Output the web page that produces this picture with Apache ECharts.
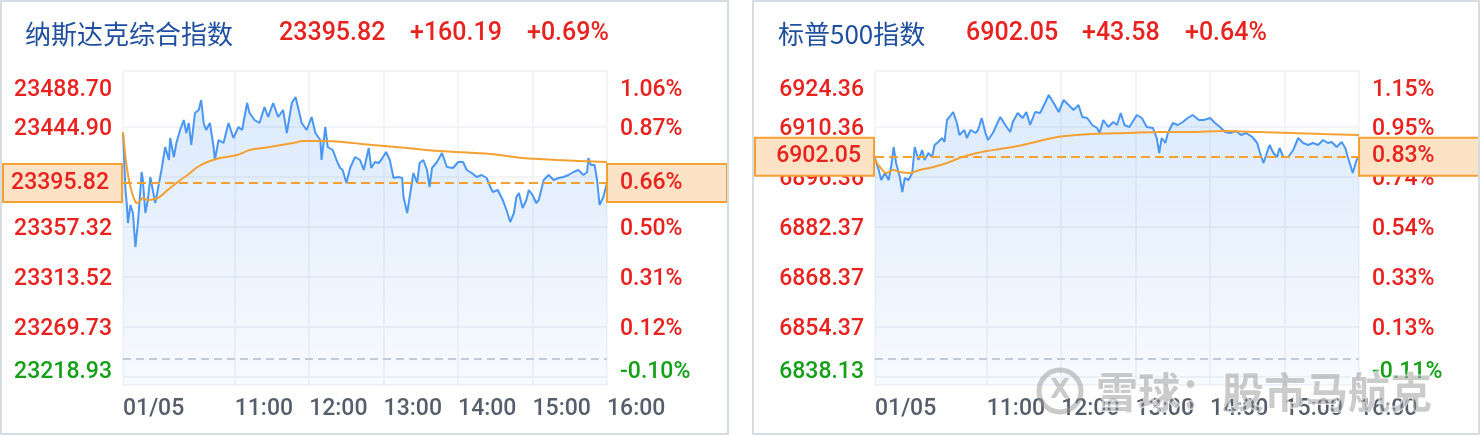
<!DOCTYPE html>
<html>
<head>
<meta charset="utf-8">
<title>纳斯达克 / 标普500 分时</title>
<script src="https://cdn.jsdelivr.net/npm/echarts@6/dist/echarts.min.js"></script>
<style>
  html, body { margin: 0; padding: 0; background: #fff; }
  #chart { width: 1482px; height: 436px; }
</style>
</head>
<body>
<div id="chart"></div>
<script>
// minutes counted from the 09:30 open
const timeTicks = [0, 90, 150, 210, 270, 330, 390]
const timeLabels = ['01/05', '11:00', '12:00', '13:00', '14:00', '15:00', '16:00']
const timeGrid = [90, 150, 210, 270, 330]

// 纳斯达克
const nasName = '纳斯达克综合指数'
const nasQuote = ['23395.82', '+160.19', '+0.69%']
const nasLast = 23395.82
const nasLastPct = '0.66%'
const nasBase = 23242.0
const nasMin = 23218.93
const nasMax = 23493.93
const nasTicks = [23218.93, 23269.73, 23313.52, 23357.32, 23401.11, 23444.90, 23488.70]
const nasPctLabels = ['-0.10%', '0.12%', '0.31%', '0.50%', '0.68%', '0.87%', '1.06%']
const nasGrid = [23225.94, 23269.73, 23313.52, 23357.32, 23401.11, 23444.90]
const nasPrice = [
  [0, 23439.63], [2, 23389.71], [3, 23378.33], [4, 23360.81], [6, 23376.57], [8, 23369.57],
  [10, 23339.79], [12, 23360.81], [14, 23389.71], [15, 23405.48], [16, 23398.47], [18, 23369.57],
  [20, 23380.95], [22, 23401.10], [24, 23389.71], [26, 23378.33], [28, 23389.71], [31, 23407.23],
  [34, 23427.37], [37, 23415.99], [38, 23435.25], [41, 23418.61], [43, 23430.87], [46, 23442.26],
  [49, 23451.02], [51, 23439.63], [53, 23448.39], [55, 23429.12], [58, 23457.15], [61, 23459.78],
  [63, 23468.53], [65, 23448.39], [67, 23442.26], [70, 23448.39], [73, 23427.37], [74, 23415.99],
  [77, 23433.50], [81, 23430.87], [85, 23448.39], [89, 23435.25], [93, 23444.89], [96, 23442.26],
  [100, 23465.91], [102, 23457.15], [106, 23451.02], [110, 23448.39], [114, 23462.40], [117, 23453.64],
  [121, 23465.91], [125, 23453.64], [129, 23459.78], [132, 23439.63], [136, 23465.91], [139, 23471.16],
  [141, 23462.40], [144, 23448.39], [148, 23442.26], [152, 23453.64], [155, 23439.63], [159, 23433.50],
  [160, 23415.99], [163, 23444.89], [165, 23427.37], [169, 23424.74], [173, 23413.36], [175, 23408.98],
  [177, 23407.23], [180, 23395.84], [183, 23408.98], [187, 23418.61], [191, 23415.99], [194, 23407.23],
  [198, 23426.49], [200, 23408.98], [203, 23414.23], [206, 23413.36], [208, 23415.99], [212, 23422.99],
  [215, 23415.99], [218, 23400.22], [222, 23401.10], [225, 23400.22], [226, 23383.58], [229, 23369.57],
  [231, 23383.58], [234, 23404.60], [237, 23395.84], [239, 23413.36], [242, 23415.99], [245, 23407.23],
  [247, 23392.34], [249, 23408.98], [253, 23414.23], [257, 23422.12], [261, 23409.85], [266, 23408.98],
  [270, 23414.23], [274, 23414.23], [277, 23407.23], [281, 23404.60], [285, 23401.10], [289, 23402.85],
  [293, 23400.22], [296, 23392.34], [298, 23387.96], [302, 23389.71], [306, 23380.95], [309, 23372.20],
  [312, 23361.69], [315, 23369.57], [317, 23383.58], [319, 23387.08], [322, 23373.95], [325, 23380.95],
  [327, 23389.71], [330, 23385.33], [333, 23378.33], [335, 23380.95], [339, 23398.47], [343, 23402.85],
  [347, 23398.47], [351, 23400.22], [355, 23401.10], [359, 23402.85], [363, 23405.48], [367, 23407.23],
  [371, 23402.85], [374, 23405.48], [375, 23417.74], [377, 23411.61], [380, 23411.61], [382, 23398.47],
  [384, 23376.57], [387, 23383.58], [390, 23395.82]
]
const nasAvg = [
  [0, 23440.51], [3, 23409.85], [6, 23392.34], [10, 23379.20], [12, 23378.33], [16, 23382.70],
  [20, 23380.95], [28, 23382.70], [36, 23389.71], [44, 23396.72], [52, 23402.85], [60, 23409.85],
  [68, 23414.23], [78, 23417.74], [92, 23420.36], [102, 23424.74], [118, 23427.37], [137, 23430.87],
  [145, 23432.63], [161, 23432.63], [177, 23431.75], [201, 23429.12], [229, 23426.49], [255, 23423.87],
  [296, 23421.24], [322, 23417.74], [350, 23415.99], [390, 23414.23]
]

// 标普500
const spxName = '标普500指数'
const spxQuote = ['6902.05', '+43.58', '+0.64%']
const spxLast = 6902.05
const spxLastPct = '0.83%'
const spxBase = 6845.4
const spxMin = 6838.13
const spxMax = 6926.05
const spxTicks = [6838.13, 6854.37, 6868.37, 6882.37, 6896.36, 6910.36, 6924.36]
const spxPctLabels = ['-0.11%', '0.13%', '0.33%', '0.54%', '0.74%', '0.95%', '1.15%']
const spxGrid = [6840.37, 6854.37, 6868.37, 6882.37, 6896.36, 6910.36]
const spxPrice = [
  [0, 6901.61], [3, 6898.33], [5, 6895.53], [8, 6897.49], [11, 6895.53], [13, 6899.17],
  [15, 6904.77], [17, 6900.29], [20, 6896.37], [22, 6892.17], [24, 6896.09], [27, 6895.53],
  [30, 6897.49], [32, 6904.77], [35, 6901.13], [38, 6903.93], [40, 6901.13], [43, 6903.09],
  [46, 6901.97], [48, 6905.33], [51, 6906.17], [54, 6907.29], [56, 6906.17], [58, 6912.33],
  [60, 6913.17], [63, 6914.57], [66, 6911.49], [68, 6908.13], [72, 6909.53], [74, 6907.29],
  [77, 6909.53], [81, 6908.69], [83, 6909.53], [86, 6912.89], [89, 6908.69], [91, 6906.73],
  [95, 6908.69], [99, 6911.77], [101, 6913.17], [105, 6910.93], [109, 6908.97], [111, 6911.77],
  [115, 6914.29], [119, 6912.89], [122, 6914.57], [125, 6910.93], [129, 6914.57], [133, 6914.29],
  [137, 6917.09], [140, 6919.33], [144, 6917.09], [148, 6914.57], [152, 6917.93], [156, 6916.53],
  [160, 6915.13], [164, 6916.53], [167, 6913.17], [171, 6912.89], [175, 6910.93], [179, 6910.09],
  [181, 6908.69], [184, 6912.33], [188, 6910.37], [192, 6911.77], [195, 6910.93], [198, 6914.29],
  [201, 6910.93], [205, 6910.37], [211, 6913.73], [215, 6912.89], [219, 6910.37], [224, 6910.09],
  [227, 6907.29], [229, 6903.09], [231, 6907.29], [234, 6905.89], [236, 6908.69], [240, 6911.49],
  [244, 6910.93], [248, 6911.77], [252, 6912.89], [256, 6913.73], [261, 6912.33], [265, 6912.33],
  [270, 6912.89], [274, 6911.49], [278, 6910.37], [282, 6908.97], [286, 6908.69], [291, 6909.25],
  [295, 6908.13], [299, 6908.69], [304, 6907.57], [308, 6905.89], [310, 6903.37], [313, 6900.29],
  [316, 6903.37], [318, 6905.33], [321, 6903.09], [324, 6901.97], [326, 6904.49], [329, 6901.97],
  [333, 6901.97], [337, 6903.93], [341, 6907.29], [345, 6905.89], [349, 6905.33], [353, 6905.89],
  [357, 6905.33], [361, 6906.73], [365, 6905.89], [368, 6906.17], [372, 6904.77], [376, 6906.17],
  [379, 6904.49], [381, 6901.97], [385, 6897.49], [388, 6901.13], [390, 6902.05]
]
const spxAvg = [
  [0, 6901.13], [4, 6899.17], [9, 6897.49], [15, 6898.33], [20, 6897.77], [28, 6897.49],
  [36, 6898.33], [47, 6899.17], [58, 6900.29], [68, 6901.69], [79, 6902.81], [90, 6903.65],
  [101, 6904.21], [119, 6905.33], [147, 6907.57], [175, 6908.41], [203, 6908.69], [230, 6908.97],
  [254, 6908.97], [281, 6909.25], [309, 6908.97], [335, 6908.69], [361, 6908.41], [390, 6908.13]
]

const RED = '#e8221f'
const GREEN = '#16a01a'
const BLUE = '#1f4f9e'
const ORANGE = '#f5a033'
const LINE = '#4a97f3'
const GRAY = '#565e6b'
const GRID = '#eef0f4'
const NUM = 'Roboto'
const CJK = 'Noto Sans CJK SC'

const panels = [
  { name: nasName, quote: nasQuote, last: nasLast, lastPct: nasLastPct, base: nasBase, min: nasMin, max: nasMax,
    ticks: nasTicks, pct: nasPctLabels, grid: nasGrid, price: nasPrice, avg: nasAvg,
    left: 123, titleX: [25, 279, 410, 527] },
  { name: spxName, quote: spxQuote, last: spxLast, lastPct: spxLastPct, base: spxBase, min: spxMin, max: spxMax,
    ticks: spxTicks, pct: spxPctLabels, grid: spxGrid, price: spxPrice, avg: spxAvg,
    left: 875, titleX: [778, 966, 1082, 1185] }
]

function yLabel (p, labels, margin) {
  const st = { fontFamily: NUM, fontSize: 23, fontWeight: 500 }
  return {
    customValues: p.ticks,
    margin,
    color: RED,
    fontFamily: NUM,
    fontSize: 23,
    formatter: (v) => {
      const k = p.ticks.findIndex(t => Math.abs(t - v) < 0.005)
      const txt = labels ? labels[k] : p.ticks[k].toFixed(2)
      if (k === 0) return '{bot|' + txt + '}'
      if (k === p.ticks.length - 1) return '{top|' + txt + '}'
      return '{mid|' + txt + '}'
    },
    rich: {
      mid: { ...st, color: RED, padding: [5, 0, 0, 0] },
      top: { ...st, color: RED, padding: [27, 0, 0, 0] },
      bot: { ...st, color: GREEN, padding: [5, 0, 30, 0] }
    }
  }
}

function boxLabel (pos, text) {
  const start = pos === 'start'
  return {
    show: true,
    position: pos,
    distance: start ? 2 : 1,
    formatter: text,
    color: RED,
    fontFamily: NUM,
    fontSize: 23,
    fontWeight: 500,
    lineHeight: 22,
    backgroundColor: '#fde3c5',
    borderColor: ORANGE,
    borderWidth: 2,
    width: start ? 105 : 106,
    align: start ? 'right' : 'left',
    padding: start ? [8, 12, 6, 0] : [8, 0, 6, 12]
  }
}

const option = {
  backgroundColor: '#fff',
  animation: false,
  title: [],
  grid: [],
  xAxis: [],
  yAxis: [],
  series: [],
  graphic: [
    { type: 'rect', shape: { x: 1, y: 1, width: 727, height: 433 }, style: { fill: 'none', stroke: '#d6dce3', lineWidth: 2 }, z: 50 },
    { type: 'rect', shape: { x: 753, y: 1, width: 726, height: 433 }, style: { fill: 'none', stroke: '#d6dce3', lineWidth: 2 }, z: 50 },
    // watermark
    { type: 'circle', shape: { cx: 1060, cy: 391, r: 21 }, style: { fill: 'none', stroke: 'rgba(150,150,150,0.5)', lineWidth: 5 }, z: 100 },
    { type: 'text', x: 1060, y: 391, style: { text: 'X', font: 'bold 26px "DejaVu Sans"', fill: 'rgba(150,150,150,0.5)', align: 'center', verticalAlign: 'middle' }, z: 100 },
    { type: 'text', x: 1096, y: 392, style: { text: '雪球：股市马航克', font: 'bold 42px "Noto Sans CJK SC"', fill: 'rgba(140,140,140,0.45)', stroke: 'rgba(255,255,255,0.7)', lineWidth: 2, verticalAlign: 'middle' }, z: 100 }
  ]
}

panels.forEach((p, i) => {
  const texts = [p.name].concat(p.quote)
  texts.forEach((t, k) => {
    option.title.push({
      text: t,
      left: p.titleX[k],
      top: 21,
      padding: 0,
      textStyle: {
        color: k === 0 ? BLUE : RED,
        fontFamily: k === 0 ? CJK : NUM,
        fontSize: k === 0 ? 26 : 25,
        fontWeight: k === 0 ? 'normal' : 500,
        lineHeight: 26
      }
    })
  })

  option.grid.push({
    left: p.left, top: 71, width: 484, height: 314,
    show: true, borderColor: '#e8ebef', borderWidth: 1
  })

  option.xAxis.push({
    type: 'value', gridIndex: i, min: 0, max: 390,
    axisLine: { show: false },
    axisTick: { show: false, customValues: timeGrid },
    splitLine: { show: true, lineStyle: { color: GRID, width: 1.5 } },
    axisLabel: {
      customValues: timeTicks,
      align: 'left',
      margin: 13,
      color: GRAY,
      fontFamily: NUM,
      fontSize: 23,
      fontWeight: 500,
      formatter: (v) => timeLabels[timeTicks.indexOf(v)]
    }
  })

  option.yAxis.push({
    type: 'value', gridIndex: i, position: 'left', min: p.min, max: p.max,
    axisLine: { show: false },
    axisTick: { show: false, customValues: p.grid },
    splitLine: { show: true, lineStyle: { color: GRID, width: 1.5 } },
    axisLabel: yLabel(p, null, 11)
  })
  option.yAxis.push({
    type: 'value', gridIndex: i, position: 'right', min: p.min, max: p.max,
    axisLine: { show: false },
    axisTick: { show: false },
    splitLine: { show: false },
    axisLabel: yLabel(p, p.pct, 13)
  })

  option.series.push({
    type: 'line',
    xAxisIndex: i,
    yAxisIndex: i * 2,
    data: p.price,
    showSymbol: false,
    lineStyle: { color: LINE, width: 2 },
    areaStyle: {
      color: new echarts.graphic.LinearGradient(0, 0, 0, 1, [
        { offset: 0, color: 'rgba(76,150,243,0.28)' },
        { offset: 1, color: 'rgba(76,150,243,0.06)' }
      ])
    },
    markLine: {
      silent: true,
      symbol: 'none',
      data: [
        { yAxis: p.base, lineStyle: { color: '#b4bccb', type: [8, 5], width: 1.5 }, label: { show: false } },
        { yAxis: p.last, lineStyle: { color: ORANGE, type: [9, 5], width: 2 }, label: boxLabel('start', p.quote[0]) },
        { yAxis: p.last, lineStyle: { color: ORANGE, type: [9, 5], width: 2 }, label: boxLabel('end', p.lastPct) }
      ]
    }
  })
  option.series.push({
    type: 'line',
    xAxisIndex: i,
    yAxisIndex: i * 2,
    data: p.avg,
    smooth: 0.3,
    showSymbol: false,
    lineStyle: { color: ORANGE, width: 2 }
  })
})

const myChart = echarts.init(document.getElementById('chart'))
myChart.setOption(option)
</script>
</body>
</html>
